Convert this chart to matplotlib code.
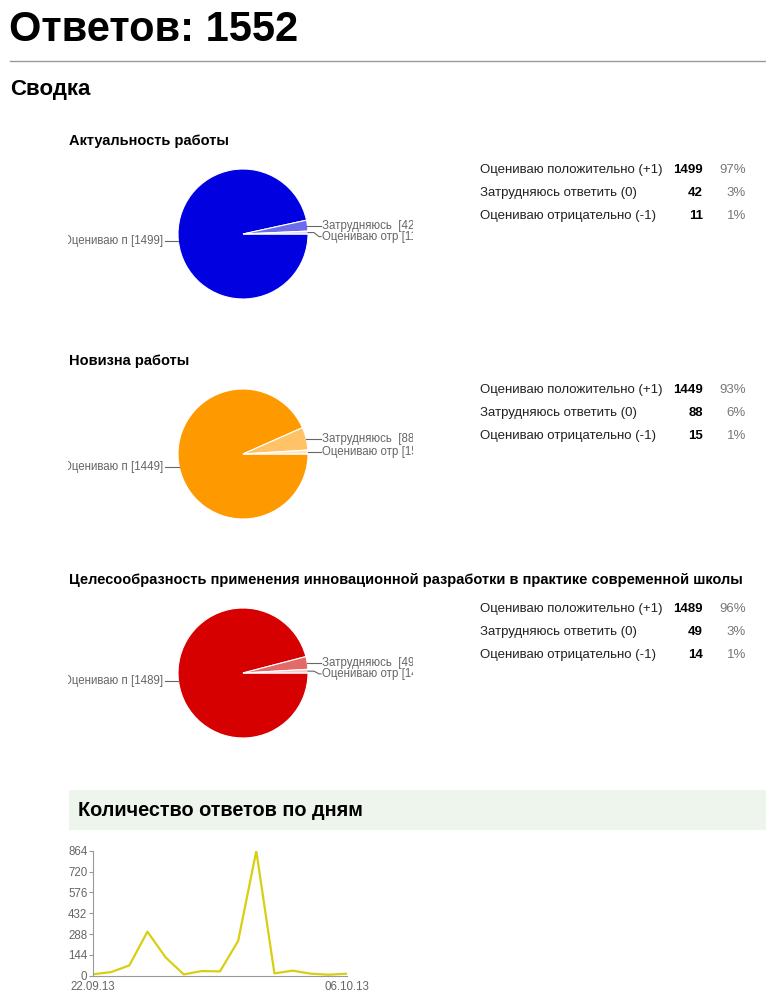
import matplotlib.pyplot as plt
import numpy as np
from matplotlib.patches import Rectangle

plt.rcParams['font.family'] = ['Liberation Sans', 'DejaVu Sans']

W, H = 766, 1008

total = 1552
questions = ['Актуальность работы',
             'Новизна работы',
             'Целесообразность применения инновационной разработки в практике современной школы']
answers = ['Оцениваю положительно (+1)', 'Затрудняюсь ответить (0)', 'Оцениваю отрицательно (-1)']
short_labels = ['Оцениваю п', 'Затрудняюсь ', 'Оцениваю отр']
counts1 = [1499, 42, 11]
counts2 = [1449, 88, 15]
counts3 = [1489, 49, 14]
colors1 = ['#0000e0', '#6b6bec', '#d8d8fa']
colors2 = ['#ff9900', '#ffc266', '#ffe6c2']
colors3 = ['#d60000', '#e46a6a', '#f6caca']

days = ['22.09.13', '23.09.13', '24.09.13', '25.09.13', '26.09.13', '27.09.13', '28.09.13',
        '29.09.13', '30.09.13', '01.10.13', '02.10.13', '03.10.13', '04.10.13', '05.10.13', '06.10.13']
per_day = [10, 25, 71, 304, 127, 9, 32, 30, 240, 862, 16, 35, 14, 7, 14]


def px(x0, y0, w, h):
    # pixel box (top-left origin) -> figure fraction rect
    return [x0 / W, 1 - (y0 + h) / H, w / W, h / H]


fig = plt.figure(figsize=(W / 100, H / 100), dpi=100)
fig.patch.set_facecolor('white')

fig.text(9 / W, 1 - 41 / H, f'Ответов: {total}', fontsize=30, fontweight='bold', va='baseline', ha='left')
fig.add_artist(plt.Line2D([10 / W, 1], [1 - 61 / H] * 2, color='#999999', lw=1))
fig.text(10 / W, 1 - 95 / H, 'Сводка', fontsize=16, fontweight='bold', va='baseline', ha='left')

gray = '#666666'


def draw_pie(cy, title, counts, colors):
    fig.text(69 / W, 1 - (cy - 89) / H, title, fontsize=10.5, fontweight='bold', va='baseline')

    ax = fig.add_axes(px(68, cy - 75, 345, 150))
    c = (175, 75)
    r = 65
    wedges, _ = ax.pie(counts, colors=colors, startangle=0, counterclock=False,
                       center=c, radius=r, wedgeprops=dict(edgecolor='white', linewidth=0.8))
    ax.set_xlim(0, 345)
    ax.set_ylim(0, 150)
    ax.set_aspect('auto')
    ax.axis('off')

    label_y = []
    for i, w in enumerate(wedges):
        mid = np.deg2rad((w.theta1 + w.theta2) / 2)
        ex, ey = c[0] + r * np.cos(mid), c[1] + r * np.sin(mid)
        txt = f'{short_labels[i]} [{counts[i]}]'
        if ex < c[0]:
            ax.plot([ex, 97], [ey, ey], color=gray, lw=0.8)
            ax.text(95, ey, txt, fontsize=8.3, color=gray, ha='right', va='center', clip_on=True)
        else:
            ly = ey
            if label_y and label_y[-1] - ly < 11:
                ly = label_y[-1] - 11
            label_y.append(ly)
            ax.plot([ex, ex + 6, 251, 253], [ey, ey, ly, ly], color=gray, lw=0.8)
            ax.text(254, ly, txt, fontsize=8.3, color=gray, ha='left', va='center', clip_on=True)

    for i, n in enumerate(counts):
        y = 1 - (cy - 64 + 23 * i) / H
        fig.text(480 / W, y, answers[i], fontsize=9.5, va='center', color='#222222')
        fig.text(703 / W, y, str(n), fontsize=9.5, fontweight='bold', va='center', ha='right')
        fig.text(746 / W, y, f'{round(100 * n / total)}%', fontsize=9.5, va='center', ha='right', color='#777777')


draw_pie(234, questions[0], counts1, colors1)
draw_pie(454, questions[1], counts2, colors2)
draw_pie(673, questions[2], counts3, colors3)

# daily responses block
fig.add_artist(Rectangle((69 / W, 1 - 830 / H), (W - 69) / W, 40 / H,
                         transform=fig.transFigure, facecolor='#eef5ed', edgecolor='none'))
fig.text(78 / W, 1 - 816 / H, 'Количество ответов по дням', fontsize=14.3, fontweight='bold', va='baseline')

ax = fig.add_axes(px(93, 850.7, 254, 125))
x = np.arange(len(days))
ax.plot(x, per_day, color='#d8cf12', lw=1.6)
ax.set_xlim(0, len(days) - 1)
ax.set_ylim(0, 864)
ax.set_yticks(np.arange(0, 865, 144))
ax.set_xticks([0, len(days) - 1])
ax.set_xticklabels([days[0], days[-1]])
ax.tick_params(axis='y', length=3, width=0.8, color='#999999', labelsize=8.3, labelcolor=gray, pad=1)
ax.tick_params(axis='x', length=0, labelsize=8.3, labelcolor=gray, pad=4)
for s in ['top', 'right']:
    ax.spines[s].set_visible(False)
for s in ['left', 'bottom']:
    ax.spines[s].set_color('#999999')
    ax.spines[s].set_linewidth(0.8)

fig.savefig('out.png', dpi=100)
